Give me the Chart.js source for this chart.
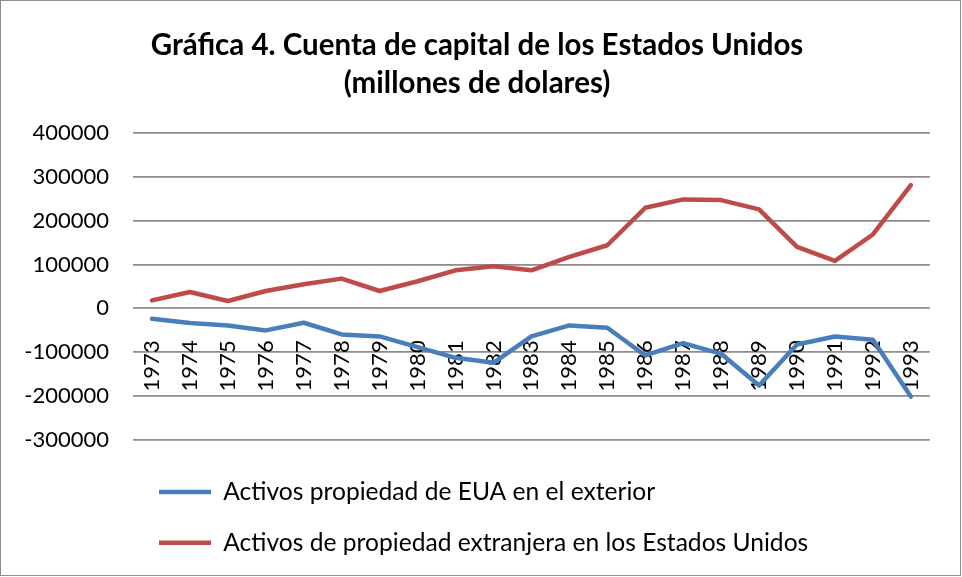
<!DOCTYPE html>
<html lang="es">

<head>
    <meta charset="UTF-8">
    <title>Gráfica 4. Cuenta de capital de los Estados Unidos</title>
    <style>
        body {
            margin: 0;
            padding: 0;
            background-color: #ffffff;
        }

        .chart-box {
            position: relative;
            width: 962px;
            height: 577px;
        }

        .chart-border {
            position: absolute;
            left: 0;
            top: 0;
            width: 961px;
            height: 576px;
            box-sizing: border-box;
            border: 1px solid #8c8c8c;
            pointer-events: none;
        }
    </style>
</head>

<body>
    <div class="chart-box">
        <canvas id="capitalChart" width="962" height="577"></canvas>
        <div class="chart-border"></div>
    </div>

    <script src="https://cdn.jsdelivr.net/npm/chart.js"></script>
    <script>
        // Datos (millones de dolares)
        var years = ['1973', '1974', '1975', '1976', '1977', '1978', '1979', '1980', '1981', '1982', '1983',
            '1984', '1985', '1986', '1987', '1988', '1989', '1990', '1991', '1992', '1993'];
        var usAssetsAbroad = [-23600, -33500, -38900, -50300, -32800, -59500, -64100, -88500, -112900, -124300,
            -64100, -38900, -44200, -107500, -79300, -103700, -176200, -82400, -64100, -71700, -201400];
        var foreignAssetsInUS = [18300, 37300, 16800, 39600, 54900, 67900, 39600, 61800, 86900, 96100,
            86900, 117400, 144100, 229500, 248700, 247100, 225800, 140300, 108300, 168600, 281400];
        var yTicks = [-300000, -200000, -100000, 0, 100000, 200000, 300000, 400000];

        var seriesNames = ['Activos propiedad de EUA en el exterior',
            'Activos de propiedad extranjera en los Estados Unidos'];
        var titleLines = ['Gráfica 4. Cuenta de capital de los Estados Unidos', '(millones de dolares)'];

        var ctx = document.getElementById('capitalChart').getContext('2d');
        var capitalChart = new Chart(ctx, {
            type: 'line',
            data: {
                labels: years,
                datasets: [{
                    label: seriesNames[0],
                    data: usAssetsAbroad,
                    borderColor: '#4a7ebb',
                    backgroundColor: '#4a7ebb',
                    borderWidth: 4.5,
                    borderCapStyle: 'round',
                    borderJoinStyle: 'round',
                    pointRadius: 0,
                    pointStyle: 'line',
                    tension: 0
                }, {
                    label: seriesNames[1],
                    data: foreignAssetsInUS,
                    borderColor: '#be4b48',
                    backgroundColor: '#be4b48',
                    borderWidth: 4.5,
                    borderCapStyle: 'round',
                    borderJoinStyle: 'round',
                    pointRadius: 0,
                    pointStyle: 'line',
                    tension: 0
                }]
            },
            options: {
                responsive: false,
                animation: false,
                devicePixelRatio: 1,
                layout: {
                    padding: { top: 0, left: 22, right: 30, bottom: 12 }
                },
                plugins: {
                    title: {
                        display: true,
                        text: titleLines,
                        color: '#000000',
                        font: { family: 'Lato', size: 29.5, weight: 'bold', lineHeight: 1.29 },
                        padding: { top: 26, bottom: 31 }
                    },
                    legend: {
                        position: 'bottom',
                        align: 'start',
                        fullSize: false,
                        title: {
                            display: true,
                            text: ' ',
                            font: { size: 1, lineHeight: 1 },
                            padding: { top: 13, bottom: 0 }
                        },
                        labels: {
                            usePointStyle: true,
                            pointStyleWidth: 52,
                            padding: 26,
                            color: '#000000',
                            font: { family: 'Lato', size: 24.6 }
                        }
                    },
                    tooltip: { enabled: false }
                },
                scales: {
                    x: {
                        position: { y: 0 },
                        offset: true,
                        grid: { display: false },
                        border: { display: false },
                        ticks: {
                            autoSkip: false,
                            minRotation: 90,
                            maxRotation: 90,
                            padding: 24,
                            color: '#000000',
                            font: { family: 'Lato', size: 22 }
                        }
                    },
                    y: {
                        min: yTicks[0],
                        max: yTicks[yTicks.length - 1],
                        afterFit: function (scale) {
                            scale.width = 111;
                        },
                        afterBuildTicks: function (scale) {
                            scale.ticks = yTicks.map(function (v) { return { value: v }; });
                        },
                        grid: {
                            color: '#8c8c8c',
                            lineWidth: 1.75,
                            drawTicks: false
                        },
                        border: { display: false },
                        ticks: {
                            padding: 24,
                            color: '#000000',
                            font: { family: 'Lato', size: 22 },
                            callback: function (value) {
                                return String(value);
                            }
                        }
                    }
                }
            }
        });
    </script>
</body>

</html>
